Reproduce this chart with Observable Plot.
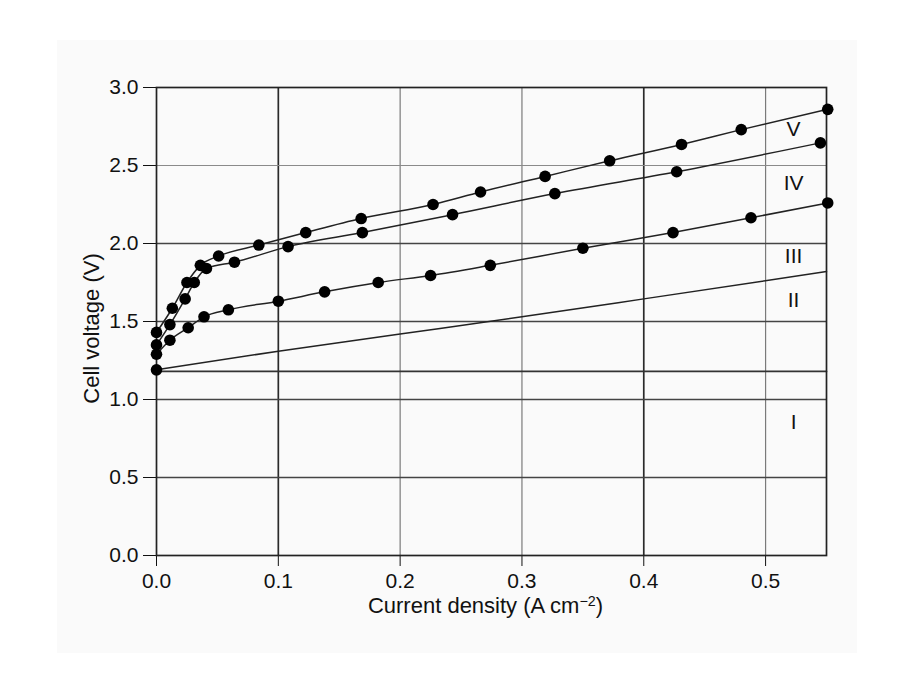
<!DOCTYPE html>
<html><head><meta charset="utf-8">
<script src="https://cdn.jsdelivr.net/npm/d3@7"></script>
<script src="https://cdn.jsdelivr.net/npm/@observablehq/plot@0.6"></script>
<style>
html,body{margin:0;padding:0;background:#fff;}
#wrap{position:relative;width:917px;height:688px;overflow:hidden;}
#bg{position:absolute;left:57px;top:40px;width:800px;height:613px;background:#fafafa;}
#chart{position:absolute;left:0;top:0;}
</style></head><body>
<div id="wrap"><div id="bg"></div><div id="chart"></div></div>
<script>
// Tick values
const xTicks = [0, 0.1, 0.2, 0.3, 0.4, 0.5];
const yTicks = [0, 0.5, 1.0, 1.5, 2.0, 2.5, 3.0];

// Curve I: reversible voltage (horizontal)
const curveI_x = [0, 0.55];
const curveI_y = [1.18, 1.18];

// Curve II (line only, start point marked)
const curveII_x = [0, 0.1, 0.2, 0.3, 0.4, 0.55];
const curveII_y = [1.19, 1.31, 1.42, 1.53, 1.645, 1.82];

// Curve III
const curveIII_x = [0, 0.011, 0.026, 0.039, 0.059, 0.1, 0.138, 0.182, 0.225, 0.274, 0.35, 0.424, 0.488, 0.551];
const curveIII_y = [1.29, 1.38, 1.46, 1.53, 1.575, 1.63, 1.69, 1.75, 1.795, 1.86, 1.97, 2.07, 2.165, 2.26];

// Curve IV
const curveIV_x = [0, 0.011, 0.0235, 0.031, 0.041, 0.064, 0.108, 0.169, 0.243, 0.327, 0.427, 0.545];
const curveIV_y = [1.35, 1.48, 1.645, 1.75, 1.84, 1.88, 1.98, 2.07, 2.185, 2.32, 2.46, 2.645];

// Curve V
const curveV_x = [0, 0.013, 0.025, 0.036, 0.051, 0.084, 0.1225, 0.168, 0.227, 0.266, 0.319, 0.372, 0.431, 0.48, 0.551];
const curveV_y = [1.43, 1.585, 1.75, 1.86, 1.92, 1.99, 2.07, 2.16, 2.25, 2.33, 2.43, 2.53, 2.635, 2.73, 2.86];

// Curve labels
const labelNames = ["V", "IV", "III", "II", "I"];
const labelX = [0.523, 0.523, 0.523, 0.523, 0.523];
const labelY = [2.73, 2.383, 1.919, 1.635, 0.854];

const xLabel = "Current density (A cm-2)";
const yLabel = "Cell voltage (V)";

const zip = (xs, ys) => xs.map((x, i) => ({x, y: ys[i]}));
const I = zip(curveI_x, curveI_y);
const II = zip(curveII_x, curveII_y);
const III = zip(curveIII_x, curveIII_y);
const IV = zip(curveIV_x, curveIV_y);
const V = zip(curveV_x, curveV_y);
const labels = labelNames.map((t, i) => ({t, x: labelX[i], y: labelY[i]}));

const darkX = new Set([0.1, 0.4]);
const lightY = new Set([2.5]);

const chart = Plot.plot({
  width: 917,
  height: 688,
  marginLeft: 156,
  marginRight: 91,
  marginTop: 87,
  marginBottom: 133,
  style: {fontFamily: "'Liberation Sans', Arial, sans-serif", fontSize: "21px", color: "#111", background: "transparent", overflow: "visible"},
  x: {domain: [0, 0.55], ticks: xTicks, tickFormat: d3.format(".1f"), tickSize: 11, tickPadding: 7, label: null},
  y: {domain: [0, 3], ticks: yTicks, tickFormat: d3.format(".1f"), tickSize: 13, tickPadding: 5, label: null},
  marks: [
    Plot.ruleX(xTicks.filter(d => d > 0), {x: d => d, stroke: d => darkX.has(d) ? "#2a2a2a" : "#7a7a7a", strokeWidth: d => darkX.has(d) ? 1.7 : 1.2}),
    Plot.ruleY(yTicks.filter(d => d > 0 && d < 3), {y: d => d, stroke: d => lightY.has(d) ? "#8a8a8a" : "#444", strokeWidth: d => lightY.has(d) ? 1.2 : 1.7}),
    Plot.line(I, {x: "x", y: "y", stroke: "#333", strokeWidth: 1.7}),
    Plot.frame({stroke: "#222", strokeWidth: 1.7}),
    Plot.line(II, {x: "x", y: "y", stroke: "#222", strokeWidth: 1.5, curve: "monotone-x"}),
    Plot.line(III, {x: "x", y: "y", stroke: "#222", strokeWidth: 1.5, curve: "monotone-x"}),
    Plot.line(IV, {x: "x", y: "y", stroke: "#222", strokeWidth: 1.5, curve: "monotone-x"}),
    Plot.line(V, {x: "x", y: "y", stroke: "#222", strokeWidth: 1.5, curve: "monotone-x"}),
    Plot.dot(II.slice(0, 1), {x: "x", y: "y", r: 5.8, fill: "#000"}),
    Plot.dot(III, {x: "x", y: "y", r: 5.8, fill: "#000"}),
    Plot.dot(IV, {x: "x", y: "y", r: 5.8, fill: "#000"}),
    Plot.dot(V, {x: "x", y: "y", r: 5.8, fill: "#000"}),
    Plot.text(labels, {x: "x", y: "y", text: "t", fontSize: 21, fill: "#111"}),
    Plot.text([xLabel], {frameAnchor: "bottom", textAnchor: "middle", lineAnchor: "middle", dy: 50, dx: -6, text: d => d, fontSize: 22, fill: "#111"}),
    Plot.text([yLabel], {frameAnchor: "left", textAnchor: "middle", lineAnchor: "middle", dx: -65, dy: 7, rotate: -90, text: d => d, fontSize: 22, fill: "#111"})
  ]
});
document.getElementById("chart").appendChild(chart);

// superscript for the unit
chart.querySelectorAll("text").forEach(t => {
  if (t.textContent === xLabel) {
    t.textContent = "";
    const ns = "http://www.w3.org/2000/svg";
    const a = document.createElementNS(ns, "tspan"); a.textContent = "Current density (A cm";
    const b = document.createElementNS(ns, "tspan"); b.textContent = "\u22122"; b.setAttribute("dy", "-0.45em"); b.setAttribute("font-size", "0.65em");
    const c = document.createElementNS(ns, "tspan"); c.textContent = ")"; c.setAttribute("dy", "0.3em");
    t.appendChild(a); t.appendChild(b); t.appendChild(c);
  }
});
</script>
</body></html>
